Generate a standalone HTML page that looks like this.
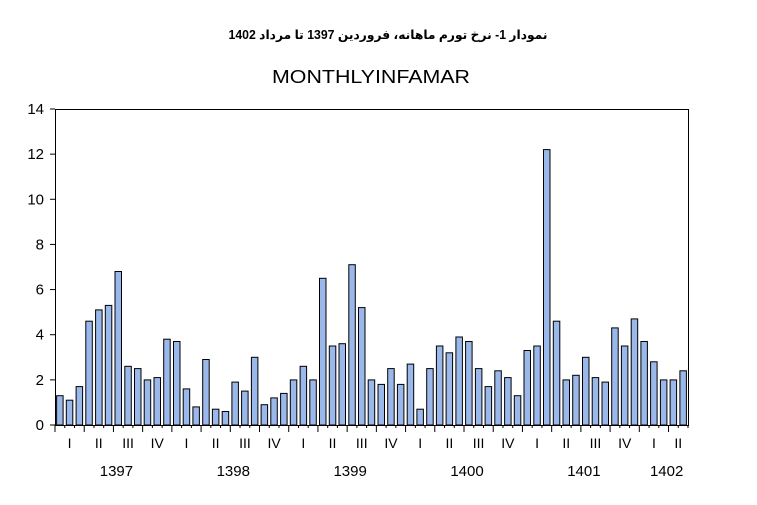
<!DOCTYPE html>
<html><head><meta charset="utf-8"><style>
body{margin:0;background:#fff;}
svg{display:block;font-family:"Liberation Sans",Arial,sans-serif;}
</style></head><body>
<svg id="c" width="757" height="505" viewBox="0 0 757 505" xmlns="http://www.w3.org/2000/svg">
<text x="388" y="39" text-anchor="middle" font-size="12.5" font-weight="bold" font-family="'Liberation Sans','DejaVu Sans',sans-serif" direction="rtl" textLength="319" lengthAdjust="spacingAndGlyphs">نمودار 1- نرخ تورم ماهانه، فروردین 1397 تا مرداد 1402</text>
<text x="272" y="83" font-size="18" textLength="198" lengthAdjust="spacingAndGlyphs">MONTHLYINFAMAR</text>
<rect x="55.5" y="109.5" width="633" height="316" fill="none" stroke="#000" stroke-width="1"/>
<g id="g"></g>
</svg>
<script>
var v=[1.3,1.1,1.7,4.6,5.1,5.3,6.8,2.6,2.5,2.0,2.1,3.8,3.7,1.6,0.8,2.9,0.7,0.6,1.9,1.5,3.0,0.9,1.2,1.4,2.0,2.6,2.0,6.5,3.5,3.6,7.1,5.2,2.0,1.8,2.5,1.8,2.7,0.7,2.5,3.5,3.2,3.9,3.7,2.5,1.7,2.4,2.1,1.3,3.3,3.5,12.2,4.6,2.0,2.2,3.0,2.1,1.9,4.3,3.5,4.7,3.7,2.8,2.0,2.0,2.4];
var x0=55,w=633/65,y0=425,s=316/14,h='';
for(var i=0;i<=14;i+=2){var y=y0-i*s;h+='<line x1="50" x2="55" y1="'+y+'" y2="'+y+'" stroke="#000"/><text x="44" y="'+(y+5)+'" text-anchor="end" font-size="15">'+i+'</text>';}
for(var i=0;i<65;i++){var bx=x0+i*w+1.6,bh=v[i]*s;h+='<rect x="'+bx.toFixed(1)+'" y="'+(y0-bh).toFixed(1)+'" width="6.5" height="'+bh.toFixed(1)+'" fill="#9bb8ea" stroke="#000" stroke-width="1"/>';}
for(var i=0;i<=65;i++){var tx=x0+i*w;var L=(i%3==0)?7:3;h+='<line x1="'+tx+'" x2="'+tx+'" y1="425" y2="'+(425+L)+'" stroke="#000"/>';}
var q=['I','II','III','IV'];
for(var k=0;k<22;k++){var st=k*3,en=Math.min(st+3,65);var cx=x0+(st+en)/2*w;h+='<text x="'+cx+'" y="448" text-anchor="middle" font-size="14">'+q[k%4]+'</text>';}
var yr=[1397,1398,1399,1400,1401,1402];
for(var k=0;k<6;k++){var st=k*12,en=Math.min(st+12,65);var cx=x0+(st+en)/2*w+3;h+='<text x="'+cx+'" y="476" text-anchor="middle" font-size="15">'+yr[k]+'</text>';}
document.getElementById('g').innerHTML=h;
</script>
</body></html>
